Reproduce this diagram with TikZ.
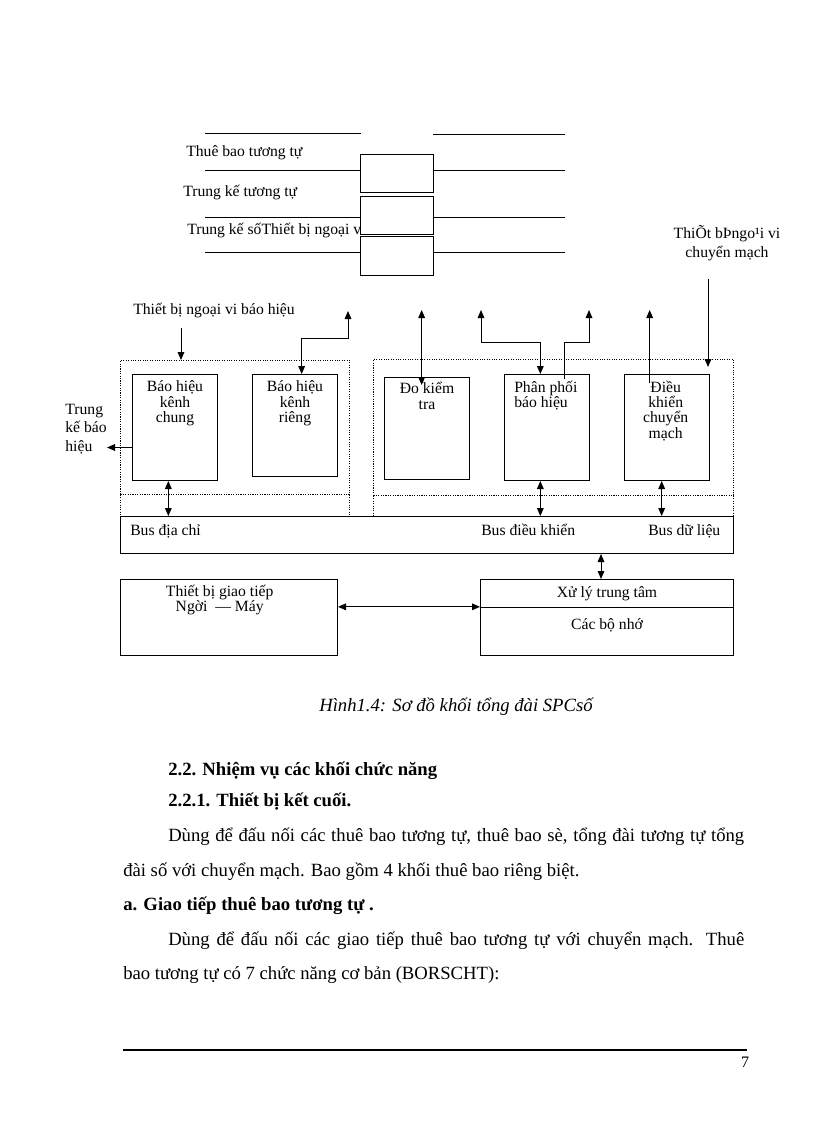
\documentclass[tikz,border=0pt]{standalone}
\usepackage{fontspec}
\setmainfont{Liberation Serif}
\usetikzlibrary{arrows.meta}
\newcommand\dgfont{\fontsize{11.75}{11.5}\selectfont}
\newcommand\txfont{\fontsize{14}{17}\selectfont}

\begin{document}
\begin{tikzpicture}[x=0.75pt, y=-0.75pt, >={Triangle[length=6pt, width=5pt]},
	blk/.style={draw, line width=0.75pt, fill=white, inner sep=0pt},
	dbox/.style={draw, line width=0.7pt, dash pattern=on 0.8pt off 1pt, inner sep=0pt},
	dln/.style={line width=0.7pt, dash pattern=on 0.8pt off 1pt},
	sz/.style 2 args={minimum width=#1*0.75pt, minimum height=#2*0.75pt, anchor=north west},
	lbl/.style={font=\dgfont, inner sep=0pt, align=center},
	wide/.style={font=\fontsize{11.75}{14}\selectfont, inner sep=0pt},
	tx/.style={font=\txfont, inner sep=0pt, anchor=base west},
	arr/.style={->, line width=0.75pt},
	darr/.style={<->, line width=0.75pt}]
	\fill[white] (0,0) rectangle (816,1123);
	\useasboundingbox (0,0) rectangle (816,1123);
	\draw[line width=0.75pt] (205,134) -- (361,134) (433,135) -- (565,135);
	\foreach \y in {171,218,252}
		\draw[line width=0.75pt] (205,\y) -- (360,\y) (433,\y) -- (565,\y);
	\node[lbl, anchor=base west] (tbt) at (186,157) {Thuê bao tương tự};
	\node[lbl, anchor=base west] (tkt) at (183,197) {Trung kế tương tự};
	\node[lbl, anchor=base west] (tks) at (187,234) {Trung kế sốThiết bị ngoại v};
	\node[blk, sz={73}{38}] (ta) at (360,154) {};
	\node[blk, sz={73}{38}] (tb) at (360,196) {};
	\node[blk, sz={73}{39}] (tc) at (360,236) {};

	\node[lbl] (tbbh) at (214,311) {Thiết bị ngoại vi báo hiệu};
	\node[wide, align=center] (tbcm) at (727,243) {ThiÕt bÞngo¹i vi\\chuyển mạch};
	\node[wide, align=left, anchor=east] (tkbh) at (107,429) {Trung\\kế báo\\hiệu};
	\coordinate (a1) at (181,328);
	\coordinate (c1) at (708,279);
	\coordinate (r1) at (348,311);
	\coordinate (p1) at (481,310);
	\coordinate (p2) at (589,310);
	\coordinate (top) at (0,310);

	\node[blk, sz={613}{37}] (bus) at (120,516) {};
	\node[dbox, sz={229}{134}] (dl) at (120,360) {};
	\node[dbox, sz={360}{136}] (dr) at (373,359) {};
	\foreach \n in {dl.south west, dl.south east, dr.south west, dr.south east}
		\draw[dln] (\n) -- (\n |- bus.north);

	\node[blk, sz={85}{106}] (bhc) at (132,374) {};
	\node[blk, sz={85}{102}] (bhr) at (252,374) {};
	\node[blk, sz={85}{102}] (dkt) at (384,377) {};
	\node[blk, sz={85}{106}] (pp) at (504,374) {};
	\node[blk, sz={85}{106}] (dk) at (624,374) {};
	\node[lbl, anchor=north] at ([yshift=-5pt]bhc.north) {Báo hiệu\\kênh\\chung};
	\node[lbl, anchor=north] at ([yshift=-5pt]bhr.north) {Báo hiệu\\kênh\\riêng};
	\node[lbl, anchor=north] at ([yshift=-4pt]dkt.north) {Đo kiểm\\tra};
	\node[lbl, align=left, anchor=north west] at ([xshift=7.5pt, yshift=-5pt]pp.north west) {Phân phối\\báo hiệu};
	\node[lbl, anchor=north] at ([xshift=-1pt, yshift=-5pt]dk.north) {Điều\\khiển\\chuyển\\mạch};

	\draw[arr] (a1) -- (a1 |- dl.north);
	\draw[arr] (c1) -- ([yshift=-6pt]c1 |- dr.north);
	\draw[arr] ([yshift=-15pt]bhc.west) -- ([yshift=-15pt]bhc.west -| tkbh.east);
	\draw[darr] ([xshift=-5pt]bhc.south) -- ([xshift=-5pt]bhc.south |- bus.north);
	\draw[darr] ([xshift=5pt]bhr.north) -- ++(0,-36) -| (r1);
	\draw[darr] ([xshift=-4pt, yshift=-6pt]dkt.north) -- ([xshift=-4pt]dkt.north |- top);
	\draw[darr] (p1) -- ++(0,32) -| ([xshift=-5pt]pp.north);
	\draw[arr] ([xshift=13pt, yshift=-4pt]pp.north) -- ++(0,-37) -| (p2);
	\draw[arr] ([xshift=-13pt, yshift=-7pt]dk.north) -- ([xshift=-13pt]dk.north |- top);
	\draw[darr] ([xshift=-5pt]pp.south) -- ([xshift=-5pt]pp.south |- bus.north);
	\draw[darr] ([xshift=-4pt]dk.south) -- ([xshift=-4pt]dk.south |- bus.north);

	\node[lbl, anchor=base west] (bdc) at (130,535) {Bus địa chỉ};
	\node[lbl, anchor=base west] (bdk) at (481,535) {Bus điều khiển};
	\node[lbl, anchor=base west] (bdl) at (648,535) {Bus dữ liệu};

	\node[blk, sz={217}{76}] (hmi) at (120,579) {};
	\node[blk, sz={253}{76}] (cpu) at (480,579) {};
	\draw[line width=0.75pt] ([yshift=7.5pt]cpu.west) -- ([yshift=7.5pt]cpu.east);
	\node[lbl, anchor=north] at ([xshift=-7pt, yshift=-4.5pt]hmi.north) {Thiết bị giao tiếp\\Ngời \ — Máy};
	\node[lbl, anchor=base] (xltt) at ([yshift=-14pt]cpu.north) {Xử lý trung tâm};
	\node[lbl, anchor=base] (cbn) at ([yshift=-38pt]cpu.north) {Các bộ nhớ};
	\draw[darr] ([yshift=8pt]hmi.east) -- ([yshift=8pt]hmi.east -| cpu.west);
	\draw[darr] ([xshift=-4.5pt]cpu.north) -- ([xshift=-4.5pt]cpu.north |- bus.south);

	\node[font=\fontsize{14}{16}\selectfont\itshape, inner sep=0pt] (cap) at (456,707) {Hình1.4: Sơ đồ khối tổng đài SPCsố};

	\node[tx, font=\txfont\bfseries] (h1) at (168,775.5) {2.2. Nhiệm vụ các khối chức năng};
	\node[tx, font=\txfont\bfseries] (h2) at (168,806.5) {2.2.1. Thiết bị kết cuối.};
	\node[tx] (l1) at (168,841.5) {\makebox[432pt][s]{Dùng để đấu nối các thuê bao tương tự, thuê bao sè, tổng đài tương tự tổng}};
	\node[tx] (l2) at (123,876.5) {đài số với chuyển mạch. Bao gồm 4 khối thuê bao riêng biệt.};
	\node[tx, font=\txfont\bfseries] (h3) at (123,910.5) {a. Giao tiếp thuê bao tương tự .};
	\node[tx] (l3) at (168,945.5) {\makebox[432pt][s]{Dùng để đấu nối các giao tiếp thuê bao tương tự với chuyển mạch. Thuê}};
	\node[tx] (l4) at (123,979.5) {bao tương tự có 7 chức năng cơ bản (BORSCHT):};
	\draw[line width=1.6pt] (123,1050) -- (747,1050);
	\node[font=\fontsize{12}{14}\selectfont, inner sep=0pt] (pg) at (745,1062) {7};
\end{tikzpicture}
\end{document}
